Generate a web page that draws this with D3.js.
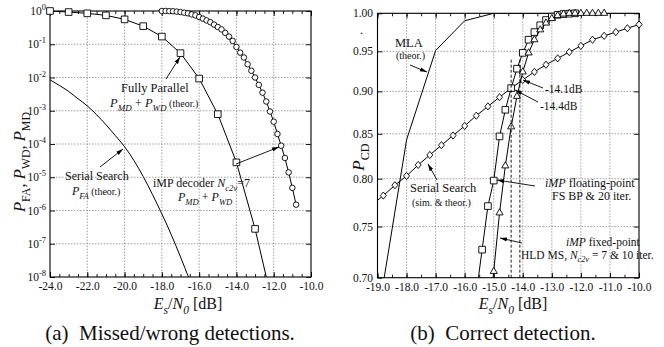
<!DOCTYPE html>
<html>
<head>
<meta charset="utf-8">
<script src="https://cdn.jsdelivr.net/npm/d3@7"></script>
<style>
	body{ margin:0; background:#fff; }
	svg text{ font-family:"Liberation Serif","DejaVu Serif","Times New Roman",serif; }
</style>
</head>
<body>
<svg id="fig" width="664" height="347"></svg>
<script>
// ---- (a) missed / wrong detections ----
var snrSerialPfa = [-24, -23.5, -23, -22.5, -22, -21.5, -21, -20.5, -20, -19.5, -19, -18.5, -18, -17.5, -17, -16.5];
var pfaSerial = [8.5e-3, 5.8e-3, 3.8e-3, 2.3e-3, 1.4e-3, 7.6e-4, 3.8e-4, 1.8e-4, 8.3e-5, 3.2e-5, 1.05e-5, 3.0e-6, 7.9e-7, 1.9e-7, 4.0e-8, 7.9e-9];

var snrParallel = [-24, -23, -22, -21, -20, -19, -18, -17, -16, -15, -14, -13, -12];
var pParallel = [1.0, 0.93, 0.85, 0.74, 0.56, 0.35, 0.17, 0.054, 9.3e-3, 7.9e-4, 2.8e-5, 2.8e-7, 1.1e-9];

var snrImpDec = [-18, -17.8, -17.6, -17.4, -17.2, -17, -16.8, -16.6, -16.4, -16.2, -16, -15.8, -15.6, -15.4, -15.2, -15,
	-14.8, -14.6, -14.4, -14.2, -14, -13.8, -13.6, -13.4, -13.2, -13, -12.8, -12.6, -12.4, -12.2, -12,
	-11.8, -11.6, -11.4, -11.2, -11, -10.8];
var pImpDec = [1.0, 1.0, 0.99, 0.98, 0.96, 0.93, 0.89, 0.85, 0.79, 0.74, 0.66, 0.59, 0.52, 0.46, 0.39, 0.33,
	0.28, 0.22, 0.17, 0.126, 0.083, 0.056, 0.040, 0.025, 0.016, 0.010, 6.0e-3, 3.5e-3, 1.9e-3, 9.5e-4, 4.7e-4,
	2.0e-4, 8.9e-5, 3.8e-5, 1.4e-5, 4.8e-6, 1.5e-6];

var xTicksA = [-24, -22, -20, -18, -16, -14, -12, -10];
var yTicksA = [0, -1, -2, -3, -4, -5, -6, -7, -8]; // exponents

// ---- (b) correct detection ----
var snrMla = [-19, -18, -17, -16, -15, -14, -13, -12, -11, -10];
var pMla = [0.662, 0.843, 0.951, 0.99, 1.0, 1.0, 1.0, 1.0, 1.0, 1.0];

var snrSerialCd = [-19.2, -18.8, -18.4, -18, -17.6, -17.2, -16.8, -16.4, -16, -15.6, -15.2, -14.8, -14.4, -14,
	-13.6, -13.2, -12.8, -12.4, -12, -11.6, -11.2, -10.8, -10.4, -10];
var pSerialCd = [0.772, 0.782, 0.793, 0.803, 0.815, 0.826, 0.837, 0.848, 0.859, 0.871, 0.882, 0.893, 0.904, 0.914,
	0.924, 0.933, 0.941, 0.949, 0.957, 0.965, 0.970, 0.975, 0.980, 0.985];

var snrFloat = [-15.6, -15.4, -15.2, -15, -14.8, -14.6, -14.4, -14.2, -14, -13.8, -13.6, -13.4, -13.2, -13, -12.8, -12.6, -12.4, -12.2];
var pFloat = [0.685, 0.727, 0.771, 0.798, 0.847, 0.878, 0.904, 0.928, 0.948, 0.965, 0.975, 0.984, 0.991, 0.9955, 0.998, 0.999, 0.9995, 1.0];

var snrFixed = [-15.2, -15, -14.8, -14.6, -14.4, -14.2, -14, -13.8, -13.6, -13.4, -13.2, -13, -12.8, -12.6,
	-12.4, -12.2, -12, -11.8, -11.6, -11.4, -11.2];
var pFixed = [0.653, 0.706, 0.764, 0.814, 0.858, 0.894, 0.924, 0.948, 0.965, 0.978, 0.987, 0.993, 0.997, 0.999,
	1.0, 1.0, 1.0, 1.0, 1.0, 1.0, 1.0];

var markerDb = [-14.4, -14.1];
var xTicksB = [-19, -18, -17, -16, -15, -14, -13, -12, -11, -10];
var yTicksB = [0.70, 0.75, 0.80, 0.85, 0.90, 0.95, 1.00];

var svg = d3.select("#fig");
var gridColor = "#8a8a8a";
var serif = "'Liberation Serif','DejaVu Serif','Times New Roman',serif";

// defs: arrow head + clips
var defs = svg.append("defs");
defs.append("marker").attr("id", "arr")
	.attr("viewBox", "0 0 10 10").attr("refX", 10).attr("refY", 5)
	.attr("markerWidth", 7).attr("markerHeight", 7).attr("orient", "auto")
	.attr("markerUnits", "userSpaceOnUse")
	.append("path").attr("d", "M0,2L10,5L0,8Z").attr("fill", "#000");

var rich = function(sel, x, y, parts, size, anchor){
	var t = sel.append("text").attr("x", x).attr("y", y)
		.attr("font-size", size).attr("text-anchor", anchor || "start").attr("fill", "#111");
	var shift = 0;
	parts.forEach(function(p){
		var s = p[1] || "";
		var target = s.indexOf("sub") >= 0 ? size * 0.3 : (s.indexOf("sup") >= 0 ? -size * 0.42 : 0);
		var ts = t.append("tspan").attr("dy", target - shift).text(p[0]);
		shift = target;
		if(s.indexOf("i") >= 0){ ts.attr("font-style", "italic"); }
		if(target !== 0){ ts.attr("font-size", size * 0.72); }
		if(p[2]){ ts.attr("font-size", p[2]); }
	});
	return t;
};

var arrow = function(sel, x1, y1, x2, y2){
	sel.append("line").attr("x1", x1).attr("y1", y1).attr("x2", x2).attr("y2", y2)
		.attr("stroke", "#000").attr("stroke-width", 0.9).attr("marker-end", "url(#arr)");
};

var sym = {
	square: d3.symbol().type(d3.symbolSquare).size(44),
	circle: d3.symbol().type(d3.symbolCircle).size(24),
	triangle: d3.symbol().type(d3.symbolTriangle).size(22),
	diamond: function(){ return "M0,-3.6L3,0L0,3.6L-3,0Z"; }
};

var drawPanel = function(o){
	var g = svg.append("g");
	var x = o.x, y = o.y;
	var x0 = x.range()[0], x1 = x.range()[1];
	var y0 = y.range()[0], y1 = y.range()[1];

	defs.append("clipPath").attr("id", o.id)
		.append("rect").attr("x", x0).attr("y", y1).attr("width", x1 - x0).attr("height", y0 - y1);

	// grid
	var grid = g.append("g").attr("stroke", gridColor).attr("stroke-width", 0.8).attr("stroke-dasharray", "1.5,1.5");
	o.xGrid.forEach(function(v){
		grid.append("line").attr("x1", x(v)).attr("x2", x(v)).attr("y1", y0).attr("y2", y1);
	});
	o.yGrid.forEach(function(v){
		grid.append("line").attr("y1", y(v)).attr("y2", y(v)).attr("x1", x0).attr("x2", x1);
	});

	// ticks (inward)
	var tk = function(axis, tr){
		var a = g.append("g").attr("transform", tr).call(axis);
		a.select(".domain").remove();
		a.selectAll("line").attr("stroke", "#000").attr("stroke-width", 0.9);
		return a;
	};
	tk(d3.axisBottom(x).tickValues(o.xMinor).tickSize(-3).tickFormat(""), "translate(0," + y0 + ")");
	tk(d3.axisTop(x).tickValues(o.xMinor).tickSize(-3).tickFormat(""), "translate(0," + y1 + ")");
	var xb = tk(d3.axisBottom(x).tickValues(o.xTicks).tickSize(-5).tickPadding(5)
		.tickFormat(function(d){ return d.toFixed(1); }), "translate(0," + y0 + ")");
	xb.attr("font-family", serif).attr("font-size", 11.5);
	xb.selectAll("text").attr("fill", "#111");
	tk(d3.axisTop(x).tickValues(o.xTicks).tickSize(-5).tickFormat(""), "translate(0," + y1 + ")");
	tk(d3.axisLeft(y).tickValues(o.yTicks).tickSize(-5).tickFormat(""), "translate(" + x0 + ",0)");
	tk(d3.axisRight(y).tickValues(o.yTicks).tickSize(-5).tickFormat(""), "translate(" + x1 + ",0)");

	g.append("rect").attr("x", x0).attr("y", y1).attr("width", x1 - x0).attr("height", y0 - y1)
		.attr("fill", "none").attr("stroke", "#000").attr("stroke-width", 1.1);

	// series
	var data = g.append("g");
	o.series.forEach(function(s){
		var pts = s.x.map(function(v, i){ return [v, s.y[i]]; });
		var line = d3.line().x(function(d){ return x(d[0]); }).y(function(d){ return y(d[1]); });
		if(s.curve){ line.curve(s.curve); }
		data.append("path").attr("d", line(pts)).attr("fill", "none")
			.attr("stroke", "#000").attr("stroke-width", 1).attr("clip-path", "url(#" + o.id + ")");
		if(s.marker){
			var ydom = y.domain();
			data.selectAll(null).data(pts.filter(function(d){
				return d[1] >= ydom[0] * 0.999 && d[0] >= x.domain()[0] - 1e-9;
			})).enter().append("path")
				.attr("transform", function(d){ return "translate(" + x(d[0]) + "," + y(d[1]) + ")"; })
				.attr("d", sym[s.marker]())
				.attr("fill", "#fff").attr("stroke", "#000").attr("stroke-width", 0.9);
		}
	});
	return g;
};

// ---------- panel (a) ----------
var xA = d3.scaleLinear().domain([-24, -10]).range([50, 311]);
var yA = d3.scaleLog().domain([1e-8, 1]).range([277, 11]);
var gA = drawPanel({
	id: "clipA", x: xA, y: yA,
	xGrid: xTicksA.slice(1, -1), yGrid: yTicksA.slice(1, -1).map(function(e){ return Math.pow(10, e); }),
	xTicks: xTicksA, xMinor: d3.range(-24, -9.9, 0.5),
	yTicks: yTicksA.map(function(e){ return Math.pow(10, e); }),
	series: [
		{ x: snrSerialPfa, y: pfaSerial, curve: d3.curveMonotoneX },
		{ x: snrParallel, y: pParallel, marker: "square" },
		{ x: snrImpDec, y: pImpDec, marker: "circle" }
	]
});
yTicksA.forEach(function(e){
	rich(gA, 46, yA(Math.pow(10, e)) + 4, [["10"], [String(e), "sup", 8.5]], 11.5, "end");
});
rich(gA, 0, 0, [["P", "i"], ["FA", "sub"], [", "], ["P", "i"], ["WD", "sub"], [", "], ["P", "i"], ["MD", "sub"]], 16.5, "middle")
	.attr("transform", "translate(25,162) rotate(-90)");
rich(gA, 188, 309, [["E", "i"], ["s", "isub"], ["/"], ["N", "i"], ["0", "isub"], [" [dB]"]], 16, "middle");
rich(gA, 170, 340, [["(a)\u00a0\u00a0Missed/wrong detections."]], 21, "middle");

rich(gA, 121, 92, [["Fully Parallel"]], 12.5);
rich(gA, 110, 107, [["P", "i"], ["MD", "isub"], [" + "], ["P", "i"], ["WD", "isub"], [" (theor.)", "", 10]], 12.5);
arrow(gA, 166, 79, 180, 57);

rich(gA, 65, 180, [["Serial Search"]], 12);
rich(gA, 72, 195, [["P", "i"], ["FA", "isub"], [" (theor.)", "", 10]], 12);
arrow(gA, 100, 167, 123, 149);

rich(gA, 153, 187, [["iMP decoder "], ["N", "i"], ["c2v", "isub"], ["=7"]], 12);
rich(gA, 178, 201, [["P", "i"], ["MD", "isub"], [" + "], ["P", "i"], ["WD", "isub"]], 12);
arrow(gA, 236, 164, 279, 147);

// ---------- panel (b) ----------
var xB = d3.scaleLinear().domain([-19, -10]).range([377.5, 639]);
var yB = d3.scaleLog().domain([0.70, 1.00]).range([277.7, 13.3]);
var gB = drawPanel({
	id: "clipB", x: xB, y: yB,
	xGrid: xTicksB.slice(1, -1), yGrid: yTicksB.slice(1, -1),
	xTicks: xTicksB, xMinor: d3.range(-19, -9.9, 0.5),
	yTicks: yTicksB,
	series: [
		{ x: snrMla, y: pMla },
		{ x: snrSerialCd, y: pSerialCd, marker: "diamond" },
		{ x: snrFloat, y: pFloat, marker: "square" },
		{ x: snrFixed, y: pFixed, marker: "triangle" }
	]
});
yTicksB.forEach(function(v){
	gB.append("text").attr("x", 373).attr("y", yB(v) + 4).attr("text-anchor", "end")
		.attr("font-size", 11.5).attr("fill", "#111").text(v.toFixed(2));
});
gB.selectAll(null).data(markerDb).enter().append("line")
	.attr("x1", function(d){ return xB(d); }).attr("x2", function(d){ return xB(d); })
	.attr("y1", yB(0.70)).attr("y2", yB(0.94))
	.attr("stroke", "#000").attr("stroke-width", 0.9).attr("stroke-dasharray", "3,2");

rich(gB, 0, 0, [["P", "i"], ["CD", "sub"]], 17, "middle").attr("transform", "translate(364,157) rotate(-90)");
gB.append("text").attr("x", 360).attr("y", 34).attr("font-size", 12).text(".");
rich(gB, 513, 309, [["E", "i"], ["s", "isub"], ["/"], ["N", "i"], ["0", "isub"], [" [dB]"]], 16, "middle");
rich(gB, 503, 340, [["(b)\u00a0\u00a0Correct detection."]], 21, "middle");

rich(gB, 395, 47, [["MLA"]], 12.5);
rich(gB, 396, 59, [["(theor.)"]], 10);
arrow(gB, 410, 65, 427, 72);

rich(gB, 410, 192, [["Serial Search"]], 12.5);
rich(gB, 412, 206, [["(sim. & theor.)"]], 10);
arrow(gB, 437, 180, 428, 164);

rich(gB, 545, 93, [["-14.1dB"]], 11.5);
arrow(gB, 543, 88, 523, 80);
rich(gB, 540, 110, [["-14.4dB"]], 11.5);
arrow(gB, 538, 102, 515, 90);

rich(gB, 545, 187, [["iMP", "i"], [" floating-point"]], 12);
rich(gB, 552, 200, [["FS BP & 20 iter."]], 12);
arrow(gB, 535, 186, 497, 180);

rich(gB, 566, 246, [["iMP", "i"], [" fixed-point"]], 11.5);
rich(gB, 521, 259, [["HLD MS, "], ["N", "i"], ["c2v", "isub"], [" = 7 & 10 iter."]], 11.5);
arrow(gB, 522, 243, 500, 238);

svg.selectAll("text").attr("font-family", serif);
</script>
</body>
</html>
